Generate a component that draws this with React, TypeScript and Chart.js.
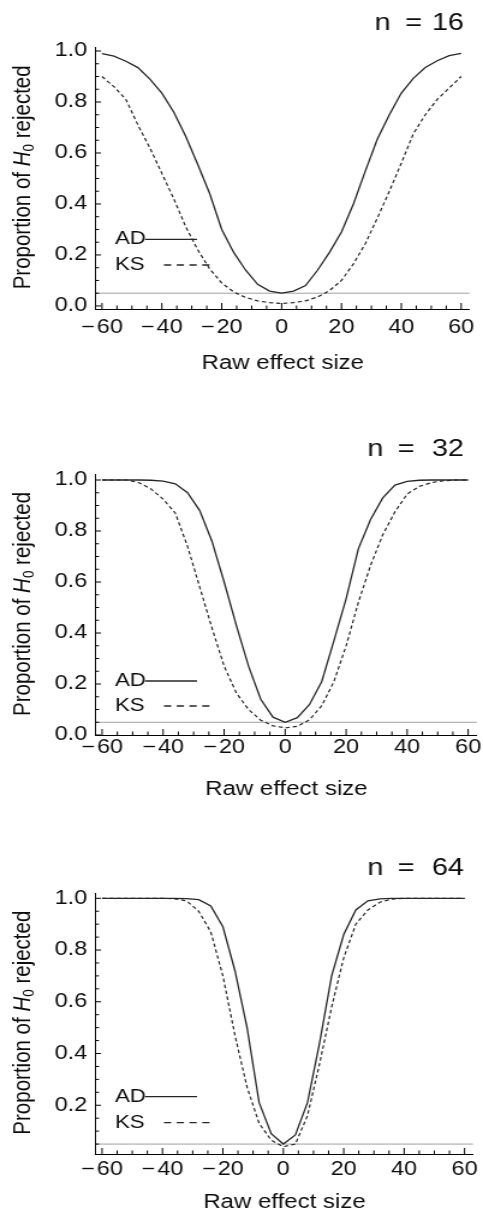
import React, { useEffect, useRef } from "react";
import { Chart, registerables } from "chart.js";

Chart.register(...registerables);

// ---------------- data ----------------
const effectSizes = [-60, -56, -52, -48, -44, -40, -36, -32, -28, -24, -20, -16, -12, -8, -4, 0, 4, 8, 12, 16, 20, 24, 28, 32, 36, 40, 44, 48, 52, 56, 60];

const ad16 = [0.99, 0.98, 0.96, 0.935, 0.89, 0.835, 0.76, 0.665, 0.555, 0.44, 0.3, 0.21, 0.14, 0.085, 0.058, 0.05, 0.058, 0.08, 0.14, 0.21, 0.29, 0.4, 0.53, 0.655, 0.75, 0.835, 0.893, 0.935, 0.962, 0.982, 0.991];
const ks16 = [0.9, 0.86, 0.81, 0.71, 0.62, 0.52, 0.42, 0.31, 0.22, 0.145, 0.09, 0.055, 0.033, 0.02, 0.013, 0.01, 0.013, 0.02, 0.035, 0.06, 0.1, 0.165, 0.245, 0.345, 0.45, 0.56, 0.675, 0.75, 0.81, 0.855, 0.9];
const ad32 = [1, 1, 1, 1, 0.999, 0.996, 0.985, 0.95, 0.88, 0.76, 0.6, 0.43, 0.27, 0.14, 0.07, 0.05, 0.068, 0.12, 0.21, 0.37, 0.535, 0.73, 0.845, 0.93, 0.98, 0.995, 0.999, 1, 1, 1, 1];
const ks32 = [1, 1, 1, 0.99, 0.965, 0.925, 0.87, 0.74, 0.58, 0.42, 0.27, 0.165, 0.1, 0.058, 0.036, 0.028, 0.034, 0.06, 0.115, 0.21, 0.35, 0.52, 0.665, 0.785, 0.875, 0.945, 0.975, 0.99, 0.997, 1, 1];
const ad64 = [1, 1, 1, 1, 1, 1, 1, 0.999, 0.995, 0.97, 0.89, 0.72, 0.5, 0.21, 0.09, 0.05, 0.085, 0.21, 0.44, 0.7, 0.86, 0.955, 0.99, 0.998, 1, 1, 1, 1, 1, 1, 1];
const ks64 = [1, 1, 1, 1, 1, 1, 0.998, 0.99, 0.95, 0.87, 0.7, 0.47, 0.27, 0.13, 0.065, 0.04, 0.05, 0.16, 0.36, 0.58, 0.77, 0.9, 0.955, 0.985, 0.997, 1, 1, 1, 1, 1, 1];

const testNames = ["AD", "KS"];
const alphaLevel = 0.05;

const xMajorTicks = [-60, -40, -20, 0, 20, 40, 60];
const xMinorTicks = [-55, -50, -45, -35, -30, -25, -15, -10, -5, 5, 10, 15, 25, 30, 35, 45, 50, 55];
const yMajorTicks = [0, 0.2, 0.4, 0.6, 0.8, 1.0];
const yMinorTicks = [0.05, 0.1, 0.15, 0.25, 0.3, 0.35, 0.45, 0.5, 0.55, 0.65, 0.7, 0.75, 0.85, 0.9, 0.95];

const xTitle = "Raw effect size";
const yTitleParts = ["Proportion of ", "H", "0", " rejected"];

// ---------------- layout ----------------
const PAGE_W = 483;
const CW = 402; // canvas buffer width, stretched by CSS to PAGE_W
const S = PAGE_W / CW;
const FONT = "'Liberation Sans', Arial, Helvetica, sans-serif";
const X_MIN = -62;
const X_MAX = 62.8;

type PanelCfg = {
  n: number;
  ad: number[];
  ks: number[];
  top: number;
  height: number;
  areaTop: number;
  axisH: number;
  yMin: number;
  yMax: number;
  titleY: number;
  nCenter: number;
  eqCenter: number;
  xTitleY: number;
  xLabelPad: number;
  legendAD: number;
  legendKS: number;
};

const panels: PanelCfg[] = [
  { n: 16, ad: ad16, ks: ks16, top: 0, height: 400, areaTop: 47.7, axisH: 91, yMin: -0.012, yMax: 1.013, titleY: 23, nCenter: 382.5, eqCenter: 413.5, xTitleY: 363, xLabelPad: 7.2, legendAD: 69.7, legendKS: 44 },
  { n: 32, ad: ad32, ks: ks32, top: 400, height: 400, areaTop: 74.9, axisH: 65, yMin: 0, yMax: 1.02, titleY: 49.5, nCenter: 375.5, eqCenter: 406, xTitleY: 389, xLabelPad: 0.8, legendAD: 54, legendKS: 29 },
  { n: 64, ad: ad64, ks: ks64, top: 800, height: 418, areaTop: 93.3, axisH: 64, yMin: 0.0116, yMax: 1.0193, titleY: 68.5, nCenter: 375.5, eqCenter: 406, xTitleY: 402, xLabelPad: 4.4, legendAD: 57.3, legendKS: 31.3 },
];

const LINE_COLOR = "#262626";
const CURVE_DASH = [3.5, 2.5];
const LEGEND_DASH = [6, 4.6];
const TEXT_COLOR = "#0d0d0d";

function makeDecor(cfg: PanelCfg) {
  return {
    id: "decor" + cfg.n,
    beforeDatasetsDraw(chart: any) {
      const { ctx, chartArea: a, scales } = chart;
      const py = scales.y.getPixelForValue(alphaLevel);
      ctx.save();
      ctx.strokeStyle = "#a0a0a0";
      ctx.lineWidth = 1;
      ctx.beginPath();
      ctx.moveTo(a.left, py);
      ctx.lineTo(a.right, py);
      ctx.stroke();
      ctx.restore();
    },
    afterDraw(chart: any) {
      const { ctx, chartArea: a, scales } = chart;
      const xs = scales.x;
      const ys = scales.y;
      ctx.save();
      // inward tick marks
      ctx.strokeStyle = "#000";
      ctx.lineWidth = 1;
      ctx.beginPath();
      const yTick = (v: number, len: number) => {
        if (v < ys.min || v > ys.max) return;
        const p = ys.getPixelForValue(v);
        ctx.moveTo(a.left, p);
        ctx.lineTo(a.left + len / S, p);
      };
      const xTick = (v: number, len: number) => {
        if (v < xs.min || v > xs.max) return;
        const p = xs.getPixelForValue(v);
        ctx.moveTo(p, a.bottom);
        ctx.lineTo(p, a.bottom - len);
      };
      yMajorTicks.forEach((v) => yTick(v, 5));
      yMinorTicks.forEach((v) => yTick(v, 3));
      xMajorTicks.forEach((v) => xTick(v, 6));
      xMinorTicks.forEach((v) => xTick(v, 3.5));
      ctx.stroke();

      ctx.fillStyle = TEXT_COLOR;
      // panel title: n = value
      ctx.font = `24px ${FONT}`;
      ctx.textBaseline = "middle";
      ctx.textAlign = "center";
      ctx.fillText("n", cfg.nCenter / S, cfg.titleY);
      ctx.fillText("=", cfg.eqCenter / S, cfg.titleY);
      ctx.textAlign = "right";
      ctx.fillText(String(cfg.n), 464 / S, cfg.titleY);

      // x title
      ctx.font = `20px ${FONT}`;
      ctx.textAlign = "center";
      ctx.fillText(xTitle, (a.left + a.right) / 2, cfg.xTitleY);

      // y title (rotated, with italic H and subscript 0)
      const fonts = [`20.5px ${FONT}`, `italic 20.5px ${FONT}`, `13.5px ${FONT}`, `20.5px ${FONT}`];
      const dys = [0, 0, 5, 0];
      let total = 0;
      const widths = yTitleParts.map((t, i) => {
        ctx.font = fonts[i];
        const w = ctx.measureText(t).width;
        total += w;
        return w;
      });
      ctx.save();
      ctx.translate(23 / S, (a.top + a.bottom) / 2 - 1);
      ctx.rotate(-Math.PI / 2);
      ctx.textAlign = "left";
      ctx.textBaseline = "middle";
      let cx = -total / 2;
      yTitleParts.forEach((t, i) => {
        ctx.font = fonts[i];
        ctx.fillText(t, cx, dys[i]);
        cx += widths[i];
      });
      ctx.restore();

      // legend
      const yAD = a.bottom - cfg.legendAD;
      const yKS = a.bottom - cfg.legendKS;
      ctx.font = `18.5px ${FONT}`;
      ctx.textAlign = "left";
      ctx.textBaseline = "middle";
      ctx.fillText(testNames[0], a.left + 19 / S, yAD);
      ctx.fillText(testNames[1], a.left + 19 / S, yKS);
      ctx.strokeStyle = LINE_COLOR;
      ctx.lineWidth = 1.3;
      ctx.beginPath();
      ctx.moveTo(a.left + 49 / S, yAD);
      ctx.lineTo(a.left + 101 / S, yAD);
      ctx.stroke();
      ctx.setLineDash(LEGEND_DASH);
      ctx.beginPath();
      ctx.moveTo(a.left + 68 / S, yKS);
      ctx.lineTo(a.left + 114 / S, yKS);
      ctx.stroke();
      ctx.restore();
    },
  };
}

function Panel({ cfg }: { cfg: PanelCfg }) {
  const ref = useRef<HTMLCanvasElement>(null);
  useEffect(() => {
    const canvas = ref.current;
    if (!canvas) return;
    const chart = new Chart(canvas, {
      type: "line",
      data: {
        datasets: [
          {
            label: testNames[0],
            data: effectSizes.map((x, i) => ({ x, y: cfg.ad[i] })),
            borderColor: LINE_COLOR,
            borderWidth: 1.3,
            pointRadius: 0,
            tension: 0,
            fill: false,
          },
          {
            label: testNames[1],
            data: effectSizes.map((x, i) => ({ x, y: cfg.ks[i] })),
            borderColor: LINE_COLOR,
            borderWidth: 1.2,
            borderDash: CURVE_DASH,
            pointRadius: 0,
            tension: 0,
            fill: false,
          },
        ],
      },
      options: {
        animation: false,
        responsive: false,
        devicePixelRatio: 1,
        events: [],
        layout: { padding: { top: cfg.areaTop, right: CW - 476.7 / S, bottom: 0, left: 0 } },
        plugins: { legend: { display: false }, tooltip: { enabled: false }, title: { display: false } },
        scales: {
          x: {
            type: "linear",
            min: X_MIN,
            max: X_MAX,
            grid: { display: true, drawOnChartArea: false, drawTicks: false },
            border: { display: true, color: "#000", width: 1 },
            ticks: {
              color: TEXT_COLOR,
              font: { family: FONT, size: 19.5 },
              padding: cfg.xLabelPad,
              maxRotation: 0,
              autoSkip: false,
              callback: (v: any) => (Number(v) < 0 ? "\u2212\u200A" + Math.abs(Number(v)) : String(v)),
            },
            afterBuildTicks: (s: any) => {
              s.ticks = xMajorTicks.map((value) => ({ value }));
            },
            afterFit: (s: any) => {
              s.height = cfg.axisH;
            },
          },
          y: {
            type: "linear",
            min: cfg.yMin,
            max: cfg.yMax,
            grid: { display: true, drawOnChartArea: false, drawTicks: false },
            border: { display: true, color: "#000", width: 1 },
            ticks: {
              color: TEXT_COLOR,
              font: { family: FONT, size: 19.5 },
              padding: 7.4,
              autoSkip: false,
              callback: (v: any) => Number(v).toFixed(1),
            },
            afterBuildTicks: (s: any) => {
              s.ticks = yMajorTicks.filter((v) => v >= cfg.yMin && v <= cfg.yMax).map((value) => ({ value }));
            },
            afterFit: (s: any) => {
              s.width = 96 / S;
            },
          },
        },
      },
      plugins: [makeDecor(cfg)],
    } as any);
    return () => chart.destroy();
  }, [cfg]);
  return (
    <canvas
      ref={ref}
      width={CW}
      height={cfg.height}
      style={{ position: "absolute", left: 0, top: cfg.top, width: PAGE_W, height: cfg.height }}
    />
  );
}

export default function App() {
  return (
    <div style={{ position: "absolute", left: 0, top: 0, width: PAGE_W, height: 1218, background: "#fff" }}>
      {panels.map((p) => (
        <Panel key={p.n} cfg={p} />
      ))}
    </div>
  );
}
